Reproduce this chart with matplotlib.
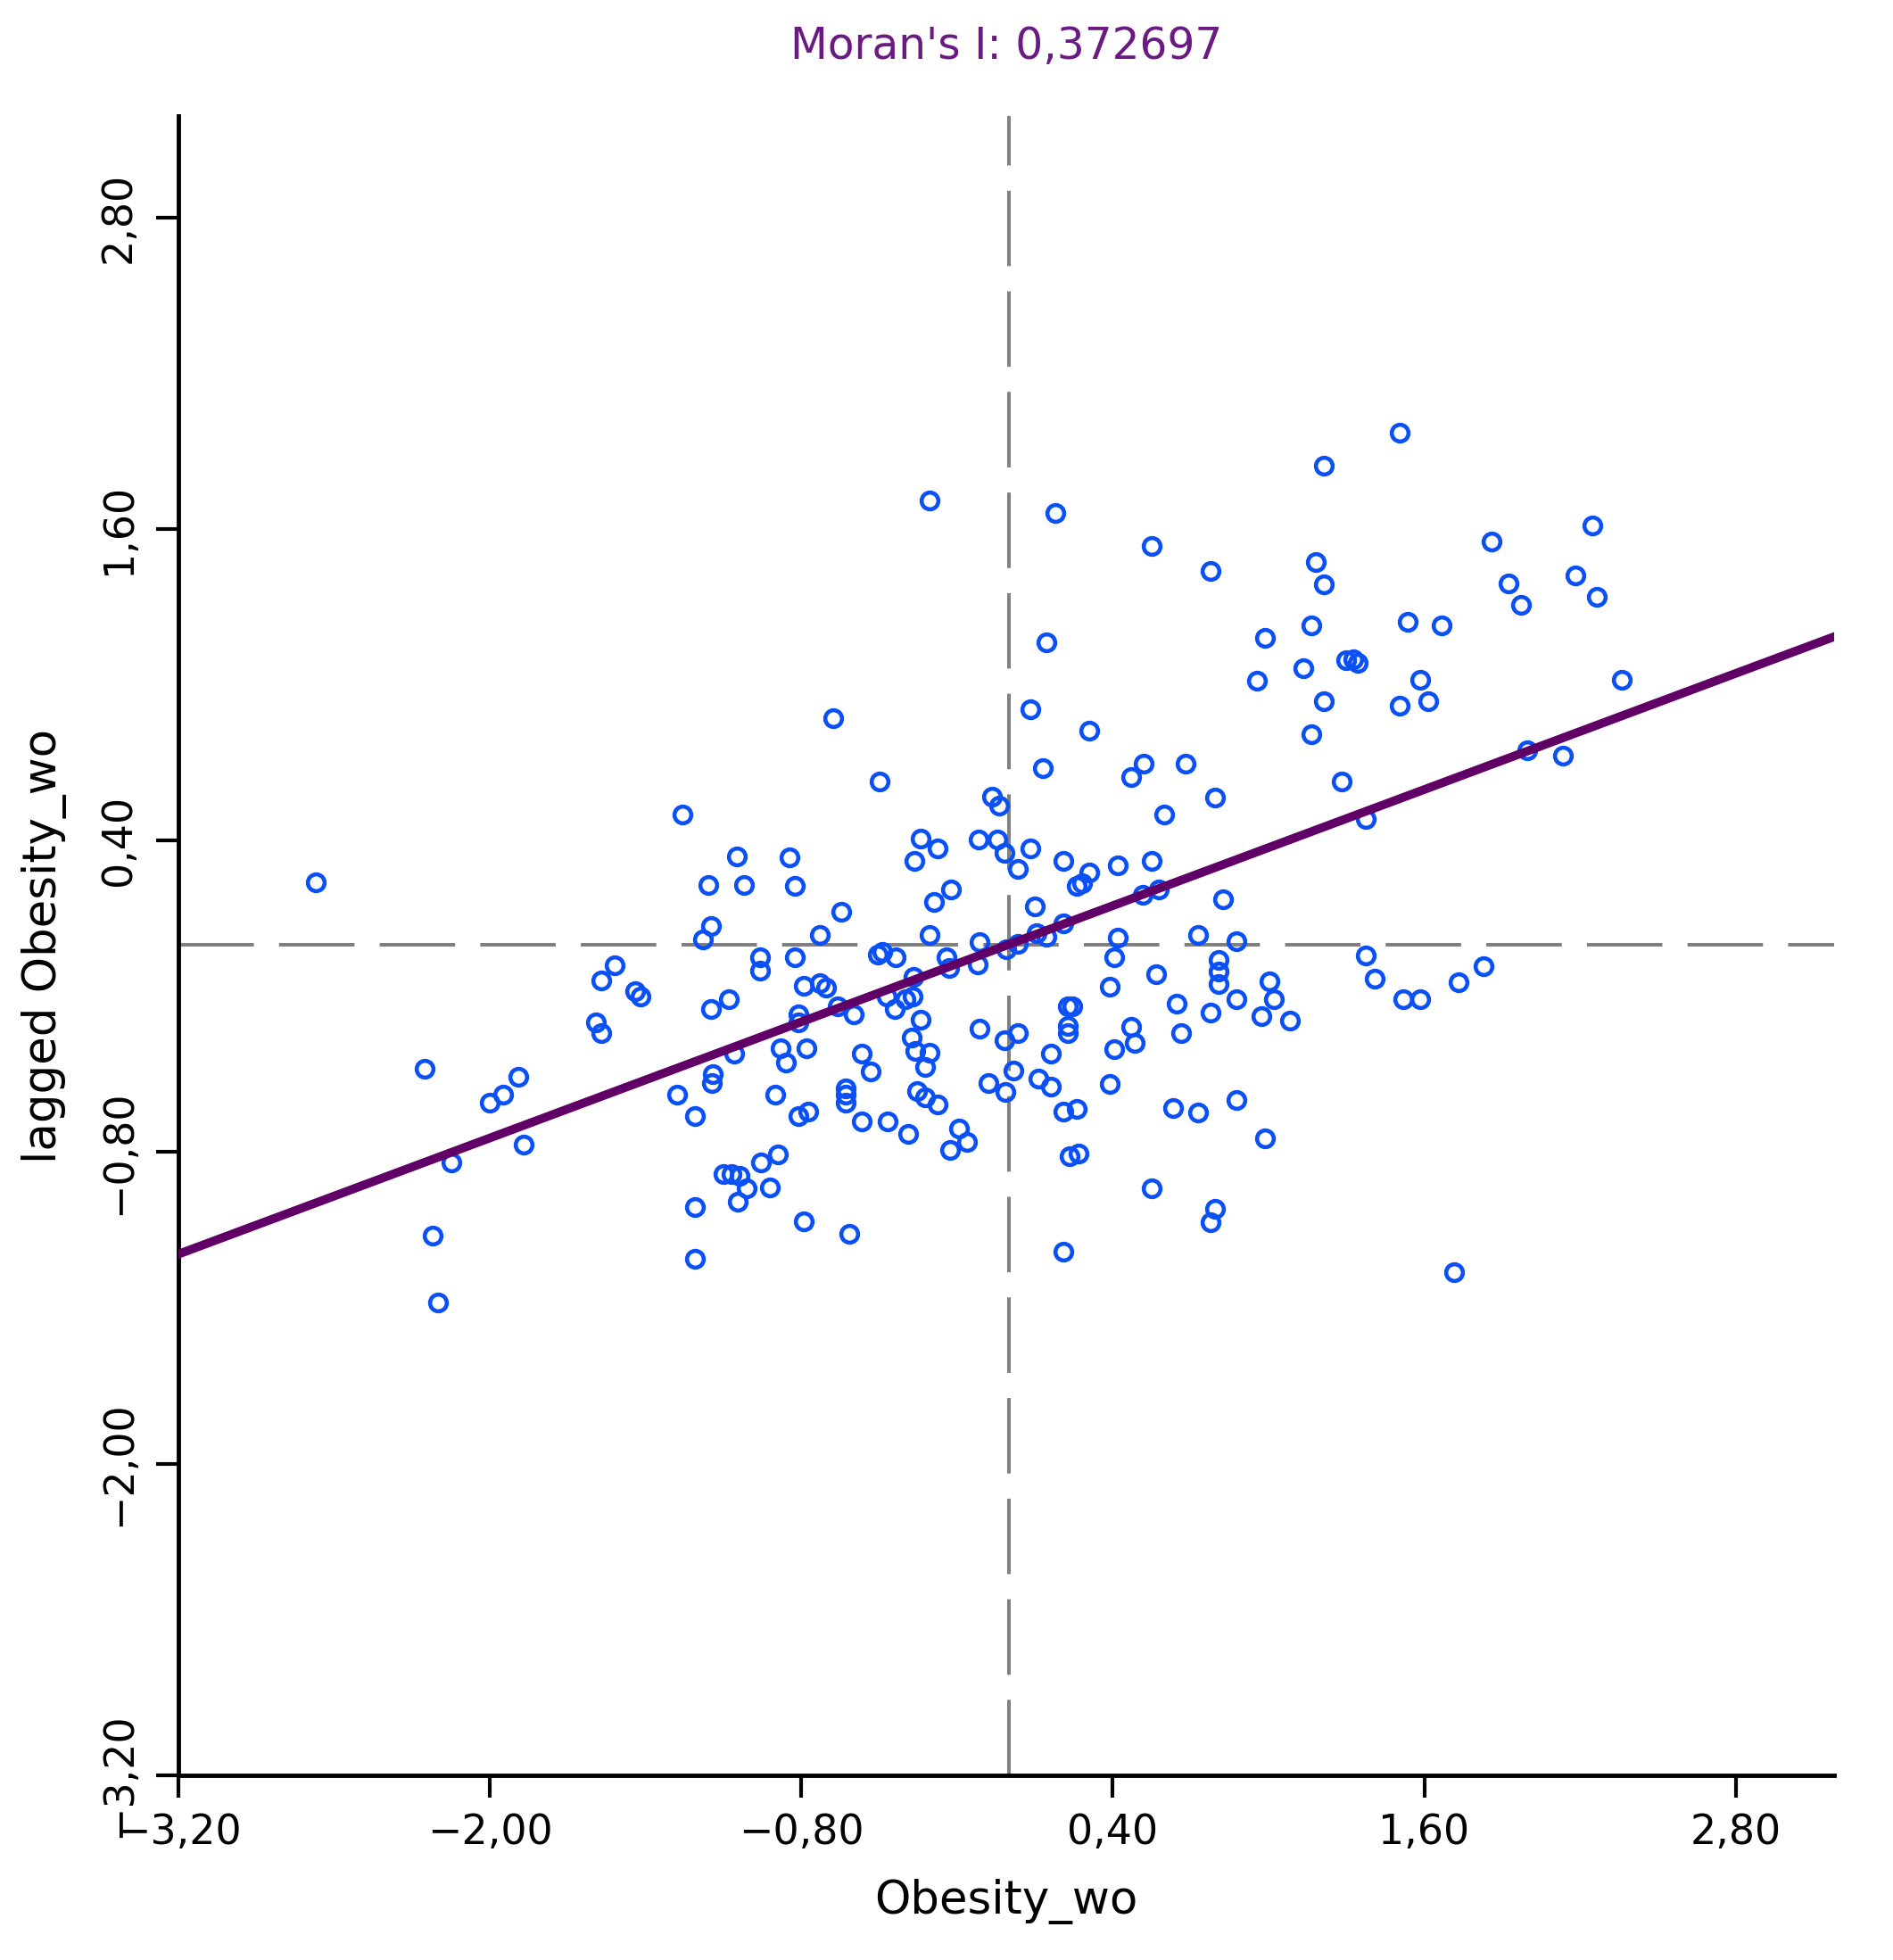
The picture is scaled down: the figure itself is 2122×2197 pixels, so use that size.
import matplotlib
matplotlib.use("Agg")
import matplotlib.pyplot as plt
from matplotlib.ticker import FuncFormatter

# standardized obesity rate (x) vs its spatial lag (y)
obesity_wo = [
    -2.67, -2.25, -2.22, -2.20, -2.15, -2.00, -1.95, -1.89, -1.87, -1.59,
    -1.57, -1.57, -1.52, -1.44, -1.42, -1.28, -1.26, -1.21, -1.21, -1.21,
    -1.18, -1.16, -1.15, -1.15, -1.14, -1.145, -1.08, -1.06, -1.05, -1.02,
    -1.10, -1.07, -1.04, -1.01, -1.045, -0.955, -0.92, -0.89,
    -0.96, -0.96, -0.90, -0.88, -0.86, -0.845, -0.825, -0.825, -0.81, -0.81,
    -0.79, -0.79, -0.81, -0.775, -0.78, -0.73, -0.73, -0.705, -0.678, -0.66,
    -0.646, -0.63, -0.63, -0.63, -0.614, -0.597, -0.568, -0.568, -0.534, -0.50,
    -0.505, -0.49, -0.468, -0.47, -0.44, -0.40, -0.37, -0.34, -0.436, -0.388,
    -0.374, -0.366, -0.341, -0.368, -0.356, -0.362, -0.322, -0.322, -0.307, -0.305,
    -0.29, -0.307, -0.276, -0.276, -0.242, -0.224, -0.231, -0.227, -0.192, -0.162,
    -0.117, -0.113, -0.113, -0.121, -0.081, -0.065, -0.045, -0.039, -0.018, -0.015,
    0.016, 0.033, 0.033, 0.033, 0.081, 0.081, 0.099, 0.113, 0.107, 0.131,
    0.145, 0.144, 0.161, 0.161, 0.178, 0.21, 0.21, 0.228, 0.211, 0.211,
    0.228, 0.228, 0.245, 0.234, 0.262, 0.262, 0.268, 0.28, 0.308, 0.308,
    -0.018, -0.01,
    0.388, 0.388, 0.404, 0.404, 0.420, 0.420, 0.470, 0.470, 0.486, 0.514,
    0.518, 0.551, 0.551, 0.550, 0.566, 0.577, 0.598, 0.631, 0.646, 0.663,
    0.680, 0.729, 0.729, 0.777, 0.777, 0.777, 0.793, 0.793, 0.809, 0.809,
    0.809, 0.826, 0.875, 0.875, 0.875, 0.955, 0.971, 0.987, 0.987, 1.003,
    1.019, 1.084, 1.133, 1.164, 1.164, 1.181, 1.213, 1.213, 1.213, 1.282,
    1.300, 1.325, 1.345, 1.376, 1.376, 1.408, 1.505, 1.505, 1.520, 1.537,
    1.585, 1.585, 1.617, 1.667, 1.715, 1.731, 1.828, 1.860, 1.926, 1.974,
    1.998, 2.135, 2.184, 2.249, 2.264, 2.361,
]
lagged_obesity_wo = [
    0.24, -0.48, -1.12, -1.38, -0.84, -0.61, -0.58, -0.51, -0.77, -0.30,
    -0.34, -0.14, -0.08, -0.18, -0.20, -0.58, 0.50, -0.66, -1.01, -1.21,
    0.02, 0.23, 0.07, -0.25, -0.50, -0.535, -0.21, -0.42, 0.34, 0.23,
    -0.885, -0.885, -0.89, -0.94, -0.99, -0.84, -0.935, -0.81,
    -0.05, -0.10, -0.58, -0.40, -0.455, 0.335, 0.225, -0.05, -0.27, -0.30,
    -0.16, -1.065, -0.66, -0.645, -0.40, -0.15, 0.035, -0.165, 0.87, -0.24,
    0.125, -0.555, -0.58, -0.61, -1.115, -0.27, -0.42, -0.68, -0.488, 0.628,
    -0.04, -0.03, -0.68, -0.20, -0.25, -0.21, -0.20, -0.29, -0.05, -0.728,
    -0.36, 0.323, 0.409, -0.124, -0.565, -0.41, -0.473, -0.588, 1.71, -0.416,
    0.165, 0.038, 0.371, -0.616, -0.049, 0.21, -0.09, -0.79, -0.708, -0.762,
    0.403, -0.326, 0.008, -0.078, -0.533, 0.57, 0.403, 0.536, -0.37, -0.568,
    -0.485, 0.289, -0.341, 0.003, 0.371, 0.905, 0.145, -0.516, 0.042, 0.678,
    1.163, 0.03, -0.422, -0.547, 1.663, 0.323, 0.082, -0.238, -0.645, -1.183,
    -0.313, -0.341, -0.24, -0.817, 0.227, -0.633, -0.805, 0.237, 0.824, 0.277,
    0.352, -0.02,
    -0.164, -0.536, -0.404, -0.049, 0.025, 0.306, 0.644, -0.318, -0.381, 0.191,
    0.695, 0.323, 1.534, -0.940, -0.116, 0.210, 0.501, -0.631, -0.227, -0.341,
    0.695, 0.037, -0.648, 1.437, -0.261, -1.069, -1.017, 0.564, -0.061, -0.106,
    -0.152, 0.174, 0.014, -0.599, -0.210, 1.016, -0.276, 1.179, -0.746, -0.141,
    -0.210, -0.292, 1.065, 0.808, 1.228, 1.471, 1.388, 0.936, 1.843, 0.629,
    1.096, 1.098, 1.085, -0.044, 0.483, -0.132, 1.970, 0.921, -0.212, 1.243,
    1.018, -0.212, 0.936, 1.227, -1.263, -0.147, -0.084, 1.551, 1.389, 1.307,
    0.747, 0.727, 1.422, 1.615, 1.340, 1.018,
]
morans_i = 0.372697
ticks = [-3.20, -2.00, -0.80, 0.40, 1.60, 2.80]

fig = plt.figure(figsize=(21.22, 21.97), dpi=100)
ax = fig.add_axes([0.0943, 0.0942, 0.8747, 0.8466])

xlim = (-3.2, 3.18)
ylim = (-3.2, 3.19)

ax.plot(obesity_wo, lagged_obesity_wo, linestyle="none", marker="o",
        markersize=13.5, markerfacecolor="none", markeredgecolor="#0a50f5",
        markeredgewidth=3.3, zorder=3)

# mean lines
ax.axvline(0, color="#808080", lw=2.9, dashes=(21, 7), zorder=2)
ax.axhline(0, color="#808080", lw=2.9, dashes=(21, 7), zorder=2)

# regression line, slope = Moran's I
ax.plot(xlim, [morans_i * v for v in xlim], color="#600066", lw=7, zorder=4)

ax.set_xlim(*xlim)
ax.set_ylim(*ylim)
ax.set_xticks(ticks)
ax.set_yticks(ticks)
fmt = FuncFormatter(lambda v, p: f"{v:.2f}".replace(".", ",").replace("-", "\u2212"))
ax.xaxis.set_major_formatter(fmt)
ax.yaxis.set_major_formatter(fmt)

for s in ["top", "right"]:
    ax.spines[s].set_visible(False)
for s in ["left", "bottom"]:
    ax.spines[s].set_linewidth(3.5)

ax.tick_params(axis="both", length=18, width=3, direction="out", labelsize=33, color="black")
ax.tick_params(axis="x", pad=12)
ax.tick_params(axis="y", pad=14)
for lbl in ax.get_yticklabels():
    lbl.set_rotation(90)
    lbl.set_va("center")

ax.set_xlabel("Obesity_wo", fontsize=37)
ax.set_ylabel("lagged Obesity_wo", fontsize=37)
ax.xaxis.set_label_coords(0.5, -0.0763)
ax.yaxis.set_label_coords(-0.0814, 0.5)
ax.xaxis.label.set_va("center")
ax.yaxis.label.set_va("center")

fig.text(0.5316, 0.9763, f"Moran's I: {morans_i:.6f}".replace(".", ","),
         ha="center", va="center", fontsize=35, color="#6a1a80")

fig.savefig("out.png", dpi=100)
